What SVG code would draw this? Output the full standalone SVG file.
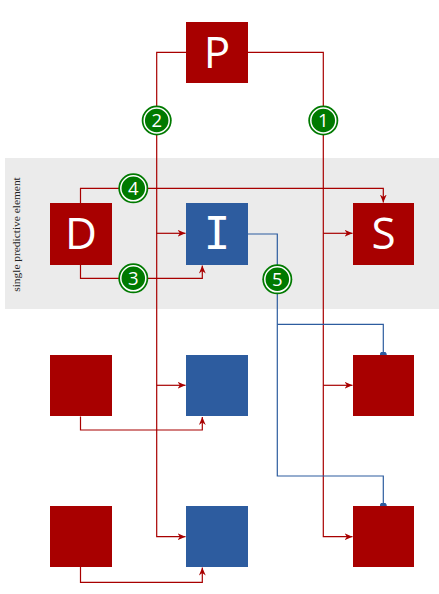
<svg xmlns="http://www.w3.org/2000/svg" width="439" height="594" viewBox="0 0 439 594">
<style>
.red{fill:#A80000}
.blue{fill:#2D5C9F}
.lbl{font-family:"Open Sans","DejaVu Sans",sans-serif;font-size:44px;fill:#fff;text-anchor:middle}
.lblI{font-family:"DejaVu Sans Mono","Liberation Mono",monospace;font-size:44px;fill:#fff;text-anchor:middle}
.rl{fill:none;stroke:#A80000;stroke-width:1.2}
.bl{fill:none;stroke:#2D5C9F;stroke-width:1.2}
.num{font-family:"Open Sans","DejaVu Sans",sans-serif;font-size:18.5px;fill:#fff;text-anchor:middle}
.co{fill:#007A00}
.ci{fill:#007A00;stroke:#fff;stroke-width:1.5}
</style>
<defs>
<marker id="ar" viewBox="0 0 8 8" refX="8" refY="4" markerWidth="8" markerHeight="8" markerUnits="userSpaceOnUse" orient="auto">
<path d="M0,0.6 L8,4 L0,7.4 L2.4,4 Z" fill="#A80000"/>
</marker>
<marker id="dot" viewBox="0 0 8 8" refX="4" refY="4" markerWidth="7" markerHeight="7" markerUnits="userSpaceOnUse">
<circle cx="4" cy="4" r="4" fill="#2D5C9F"/>
</marker>
</defs>
<rect x="5" y="158" width="434" height="151" fill="#EBEBEB"/>
<text transform="translate(20,234.5) rotate(-90)" font-family="Liberation Serif,serif" font-size="11.4" fill="#222" text-anchor="middle">single predictive element</text>
<g id="connectors">
<path class="rl" d="M186,52.3 H156.7 V536.7 H185.5" marker-end="url(#ar)"/>
<path class="rl" d="M248,52.3 H323.3 V536.7 H352.5" marker-end="url(#ar)"/>
<path class="rl" d="M156.7,233.3 H185.5" marker-end="url(#ar)"/>
<path class="rl" d="M323.3,233.3 H352.5" marker-end="url(#ar)"/>
<path class="rl" d="M156.7,385.3 H185.5" marker-end="url(#ar)"/>
<path class="rl" d="M323.3,385.3 H352.5" marker-end="url(#ar)"/>
<path class="rl" d="M80.5,203 V188.3 H383.3 V202.5" marker-end="url(#ar)"/>
<path class="rl" d="M80.5,265 V278.3 H202.3 V265.5" marker-end="url(#ar)"/>
<path class="rl" d="M80.5,416.5 V430 H202.3 V417" marker-end="url(#ar)"/>
<path class="rl" d="M80.5,567 V582.3 H202.3 V567.5" marker-end="url(#ar)"/>
<path class="bl" d="M248,234 H277.3 V476 H383.3 V506" marker-end="url(#dot)"/>
<path class="bl" d="M277.3,324.3 H383.3 V355" marker-end="url(#dot)"/>
</g>
<g id="node-P"><rect class="red" x="186" y="22" width="62" height="61"/><text class="lbl" x="217" y="68">P</text></g>
<g id="node-D"><rect class="red" x="50" y="203" width="62" height="62"/><text class="lbl" x="81" y="249">D</text></g>
<g id="node-I"><rect class="blue" x="186" y="203" width="62" height="62"/><text class="lblI" x="217" y="249">I</text></g>
<g id="node-S"><rect class="red" x="353" y="203" width="61" height="62"/><text class="lbl" x="383.5" y="249">S</text></g>
<g id="node-D2"><rect class="red" x="50" y="355" width="62" height="61"/></g>
<g id="node-I2"><rect class="blue" x="186" y="355" width="62" height="61"/></g>
<g id="node-S2"><rect class="red" x="353" y="355" width="61" height="61"/></g>
<g id="node-D3"><rect class="red" x="50" y="506" width="62" height="61"/></g>
<g id="node-I3"><rect class="blue" x="186" y="506" width="62" height="61"/></g>
<g id="node-S3"><rect class="red" x="353" y="506" width="61" height="61"/></g>
<g id="badge-1"><circle class="co" cx="323.3" cy="120.5" r="15"/><circle class="ci" cx="323.3" cy="120.5" r="12.5"/><text class="num" x="323.3" y="127">1</text></g>
<g id="badge-2"><circle class="co" cx="156.7" cy="120.5" r="15"/><circle class="ci" cx="156.7" cy="120.5" r="12.5"/><text class="num" x="156.7" y="127">2</text></g>
<g id="badge-3"><circle class="co" cx="133.3" cy="278.3" r="15"/><circle class="ci" cx="133.3" cy="278.3" r="12.5"/><text class="num" x="133.3" y="284.8">3</text></g>
<g id="badge-4"><circle class="co" cx="133.3" cy="188.3" r="15"/><circle class="ci" cx="133.3" cy="188.3" r="12.5"/><text class="num" x="133.3" y="194.8">4</text></g>
<g id="badge-5"><circle class="co" cx="277.3" cy="279.3" r="15"/><circle class="ci" cx="277.3" cy="279.3" r="12.5"/><text class="num" x="277.3" y="285.8">5</text></g>
</svg>
